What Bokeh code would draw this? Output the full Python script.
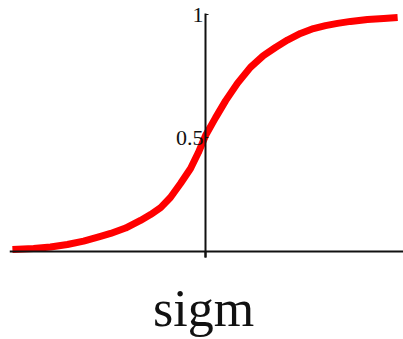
from bokeh.plotting import figure
from bokeh.models import LinearAxis, FixedTicker, Range1d, Label
from bokeh.embed import file_html
from bokeh.resources import INLINE

# sigmoid curve
x_vals = [-5.94, -5.29, -4.77, -4.25, -3.75, -3.23, -2.92, -2.46, -2.00, -1.69,
          -1.38, -1.08, -0.77, -0.46, -0.22, 0.00, 0.31, 0.62, 0.98, 1.38,
          1.78, 2.15, 2.52, 2.92, 3.32, 3.69, 4.06, 4.46, 4.98, 5.48, 5.91]
y_vals = [0.045, 0.049, 0.055, 0.065, 0.079, 0.098, 0.110, 0.132, 0.163, 0.187,
          0.215, 0.256, 0.313, 0.374, 0.439, 0.508, 0.581, 0.650, 0.720, 0.785,
          0.833, 0.866, 0.896, 0.923, 0.943, 0.955, 0.964, 0.972, 0.980, 0.984, 0.988]

y_ticks = [0.5, 1.0]
y_tick_labels = ["0.5", "1"]
x_ticks = [0.0]
title_text = "sigm"

# frame covers the whole canvas; axis lines are limited with bounds
p = figure(width=403, height=339, output_backend="svg", toolbar_location=None,
           x_range=Range1d(-6.03, 6.09), y_range=Range1d(-0.321, 1.057),
           x_axis_location=None, y_axis_location=None,
           min_border_left=9, min_border_right=0, min_border_top=0, min_border_bottom=0)
p.outline_line_color = None
p.xgrid.visible = False
p.ygrid.visible = False
p.background_fill_color = "white"
p.border_fill_color = "white"

p.line(x_vals, y_vals, line_color="#ff0000", line_width=7, line_join="round")

font = "Liberation Serif"

yax = LinearAxis(fixed_location=0, bounds=(0.012, 1.004), ticker=FixedTicker(ticks=y_ticks),
                 major_label_overrides={t: l for t, l in zip(y_ticks, y_tick_labels)},
                 axis_line_width=2, axis_line_color="#111111",
                 major_tick_in=3, major_tick_out=0, major_tick_line_color="#111111",
                 minor_tick_in=0, minor_tick_out=0,
                 major_label_text_font=font, major_label_text_font_size="22px",
                 major_label_text_color="#111111", major_label_standoff=2)
p.add_layout(yax, "left")

xax = LinearAxis(fixed_location=0.037, ticker=FixedTicker(ticks=x_ticks),
                 major_label_overrides={0.0: ""},
                 axis_line_width=2, axis_line_color="#111111",
                 major_tick_in=0, major_tick_out=6, major_tick_line_width=2,
                 major_tick_line_color="#111111",
                 minor_tick_in=0, minor_tick_out=0,
                 major_label_text_font_size="0px")
p.add_layout(xax, "below")

p.add_layout(Label(x=-0.06, y=-0.195, text=title_text, text_align="center",
                   text_baseline="alphabetic", text_font=font,
                   text_font_size="52px", text_color="#111111"))

open("out.html", "w").write(file_html(p, INLINE))
